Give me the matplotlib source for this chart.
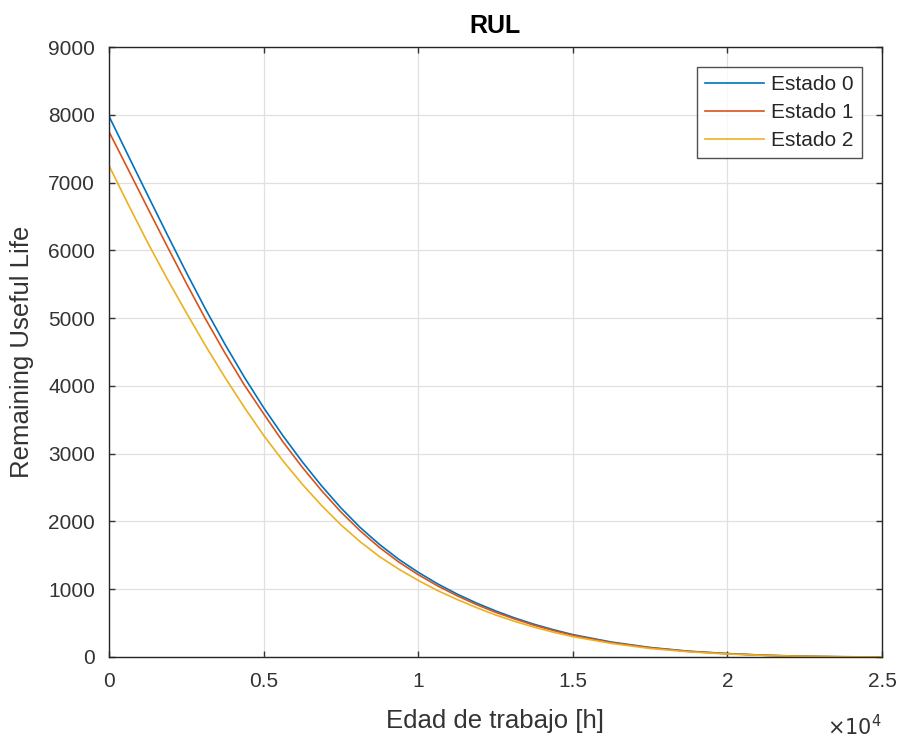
import numpy as np
import matplotlib.pyplot as plt

# Edad de trabajo [h]
edad = [0, 625, 1250, 1875, 2500, 3125, 3750, 4375, 5000, 5625, 6250, 6875,
        7500, 8125, 8750, 9375, 10000, 10625, 11250, 11875, 12500, 13125,
        13750, 14375, 15000, 16250, 17500, 18750, 20000, 21250, 22500,
        23750, 25000]
# Remaining Useful Life
rul_e0 = [7980, 7395, 6815, 6240, 5675, 5130, 4615, 4130, 3680, 3265, 2880,
          2525, 2200, 1910, 1660, 1440, 1250, 1080, 930, 798, 680, 575, 482,
          402, 330, 220, 140, 85, 50, 25, 10, 3, 0]
rul_e1 = [7750, 7190, 6625, 6065, 5515, 4985, 4485, 4015, 3590, 3175, 2800,
          2455, 2140, 1860, 1615, 1400, 1215, 1050, 905, 775, 660, 560, 468,
          390, 320, 212, 135, 82, 48, 24, 9, 3, 0]
rul_e2 = [7250, 6675, 6115, 5585, 5080, 4590, 4125, 3685, 3270, 2895, 2550,
          2235, 1950, 1700, 1480, 1295, 1130, 980, 850, 730, 620, 525, 440,
          365, 300, 200, 125, 76, 44, 22, 8, 2, 0]
etiquetas = ["Estado 0", "Estado 1", "Estado 2"]
colores = ["#0072BD", "#D95319", "#EDB120"]

plt.rcParams['font.family'] = ['Liberation Sans', 'DejaVu Sans']

fig = plt.figure(figsize=(9.03, 7.38), dpi=100)
ax = fig.add_axes([0.1207, 0.1098, 0.8560, 0.8265])

for y, lab, c in zip([rul_e0, rul_e1, rul_e2], etiquetas, colores):
    ax.plot(edad, y, color=c, linewidth=1.2, label=lab)

ax.set_xlim(0, 25000)
ax.set_ylim(0, 9000)
ax.set_xticks(np.arange(0, 25001, 5000))
ax.set_xticklabels(["0", "0.5", "1", "1.5", "2", "2.5"])
ax.set_yticks(np.arange(0, 9001, 1000))
ax.grid(True, color="#e0e0e0", linewidth=0.9)
ax.set_axisbelow(True)
ax.tick_params(direction="in", top=True, right=True, length=4.5,
               labelsize=15, colors="#333333", width=1.0)
ax.tick_params(axis="x", pad=11)
ax.tick_params(axis="y", pad=10)
for s in ax.spines.values():
    s.set_color("#262626")
    s.set_linewidth(1.0)

ax.set_title("RUL", fontsize=18, fontweight="bold", color="#000000", pad=10)
ax.set_xlabel("Edad de trabajo [h]", fontsize=18.5, color="#333333")
ax.set_ylabel("Remaining Useful Life", fontsize=18.5, color="#333333")
ax.xaxis.set_label_coords(0.5, -0.085)
ax.yaxis.set_label_coords(-0.097, 0.5)
ax.text(1.0, -0.093, r"$\times10^4$", transform=ax.transAxes, ha="right",
        va="top", fontsize=15, color="#333333")

leg = ax.legend(loc="upper right", fontsize=15, frameon=True, fancybox=False,
                edgecolor="#262626", handlelength=2.8, borderpad=0.4,
                labelspacing=0.42, handletextpad=0.34, borderaxespad=0,
                bbox_to_anchor=(0.974, 0.967))
leg.get_frame().set_linewidth(1.0)
for t in leg.get_texts():
    t.set_color("#262626")

fig.savefig("out.png", dpi=100)
